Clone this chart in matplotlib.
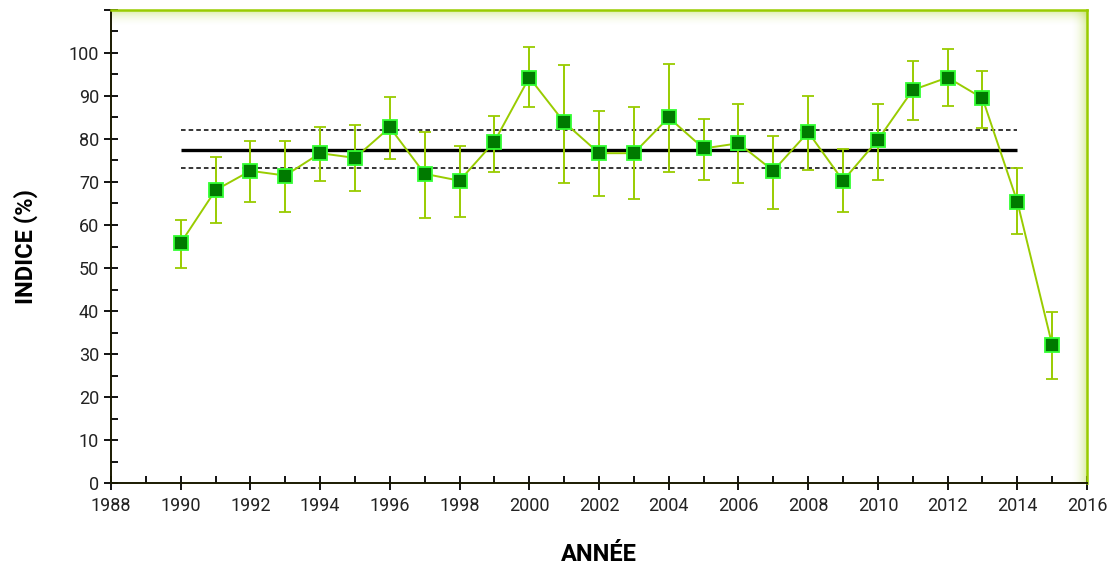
import numpy as np
import matplotlib.pyplot as plt
from matplotlib.ticker import MultipleLocator

plt.rcParams['font.family'] = ['Roboto', 'DejaVu Sans']

years = list(range(1990, 2016))
indice = [55.8, 68.1, 72.6, 71.5, 76.7, 75.6, 82.7, 71.9, 70.3, 79.4,
          94.3, 83.9, 76.7, 76.7, 85.0, 77.8, 79.0, 72.6, 81.6, 70.3,
          79.8, 91.4, 94.3, 89.5, 65.4, 32.1]
err_top = [61.2, 75.8, 79.5, 79.5, 82.9, 83.3, 89.7, 81.7, 78.4, 85.4,
           101.3, 97.2, 86.4, 87.4, 97.5, 84.7, 88.1, 80.7, 90.1, 77.7,
           88.1, 98.2, 100.9, 95.7, 73.2, 39.8]
err_bot = [50.0, 60.5, 65.3, 63.0, 70.2, 68.0, 75.4, 61.6, 61.9, 72.4,
           87.4, 69.8, 66.8, 66.0, 72.4, 70.5, 69.8, 63.8, 72.8, 63.0,
           70.5, 84.4, 87.7, 82.5, 57.8, 24.1]
mean_val = 77.4
ci_low, ci_high = 73.2, 82.2
ref_span = (1990, 2014)

lime = '#99cc00'
x = np.array(years)
y = np.array(indice)
yerr = [y - np.array(err_bot), np.array(err_top) - y]

fig = plt.figure(figsize=(11.14, 5.71), dpi=100)
ax = fig.add_axes([0.0996, 0.1541, 0.8762, 0.8284])

ax.hlines(mean_val, *ref_span, color='black', lw=2.4, zorder=2)
ax.hlines([ci_low, ci_high], *ref_span, color='black', lw=1.1,
          linestyles=(0, (3, 2)), zorder=2)

ax.errorbar(x, y, yerr=yerr, color=lime, lw=1.4, elinewidth=1.4,
            capsize=4, capthick=1.4, marker='s', ms=10.5,
            mfc='#007a00', mec='#33ff33', mew=1.3, zorder=3)

ax.set_xlim(1988, 2016)
ax.set_ylim(0, 110)
ax.set_xticks(range(1988, 2017, 2))
ax.xaxis.set_minor_locator(MultipleLocator(1))
ax.set_yticks(range(0, 111, 10))
ax.set_yticklabels([str(v) for v in range(0, 101, 10)] + [''])
ax.yaxis.set_minor_locator(MultipleLocator(5))
ax.tick_params(which='major', direction='inout', length=10, width=1.3,
               labelsize=13, colors='black', labelcolor='#222222')
ax.tick_params(which='minor', direction='in', length=5, width=1.3)
ax.tick_params(axis='x', pad=5)

for side in ['left', 'bottom']:
    ax.spines[side].set_color('#1a1a00')
    ax.spines[side].set_linewidth(1.4)
for side in ['top', 'right']:
    ax.spines[side].set_color(lime)
    ax.spines[side].set_linewidth(1.8)

# soft green glow inside the top and right border
grad = np.linspace(0, 1, 50)
glow_top = np.zeros((50, 1, 4))
glow_top[..., 0:3] = [0.6, 0.8, 0.0]
glow_top[:, 0, 3] = 0.35 * grad ** 2
ax.imshow(glow_top, extent=[0, 1, 0.965, 1], transform=ax.transAxes,
          aspect='auto', origin='lower', zorder=0)
glow_right = np.zeros((1, 50, 4))
glow_right[..., 0:3] = [0.6, 0.8, 0.0]
glow_right[0, :, 3] = 0.35 * grad ** 2
ax.imshow(glow_right, extent=[0.983, 1, 0, 1], transform=ax.transAxes,
          aspect='auto', origin='lower', zorder=0)
ax.set_xlim(1988, 2016)
ax.set_ylim(0, 110)

ax.set_ylabel('INDICE (%)', fontsize=17, fontweight='bold', labelpad=22)
ax.set_xlabel('ANNÉE', fontsize=17, fontweight='bold', labelpad=20)

fig.savefig('out.png', dpi=100)
